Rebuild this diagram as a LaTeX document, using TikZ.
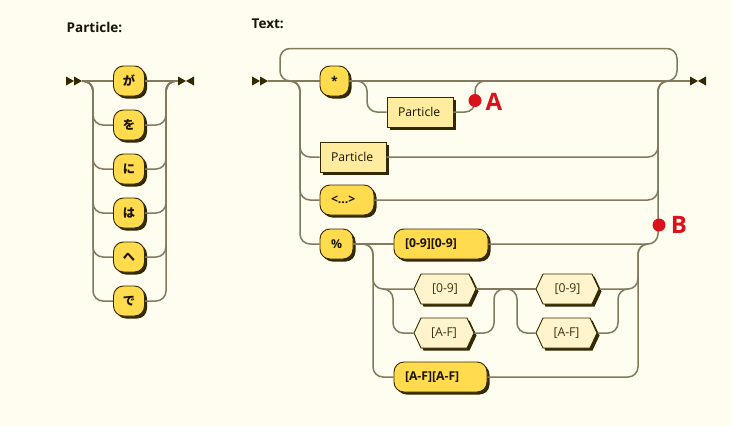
\documentclass[tikz,border=0pt]{standalone}
\usepackage{fontspec}
\setmainfont{Open Sans}
\newfontfamily\cjk{Noto Sans CJK JP}
\usetikzlibrary{shapes.symbols,shadows}
\definecolor{bgc}{RGB}{255,253,240}
\definecolor{railc}{RGB}{130,122,94}
\definecolor{termc}{RGB}{255,219,77}
\definecolor{ntermc}{RGB}{255,236,158}
\definecolor{hexc}{RGB}{255,244,204}
\definecolor{edgec}{RGB}{51,41,0}
\definecolor{redc}{RGB}{218,18,28}
\definecolor{txtc}{RGB}{25,20,5}
\definecolor{hextxt}{RGB}{62,50,18}
\tikzset{
  rail/.style={draw=railc, line width=1.5pt, rounded corners=10pt},
  boxbase/.style={draw=edgec, line width=0.9pt, inner sep=0pt, minimum height=30pt,
    general shadow={fill=edgec, shadow xshift=2.5pt, shadow yshift=-2.5pt},
    font=\fontsize{12.2}{14}\selectfont},
  term/.style={boxbase, rectangle, rounded corners=10pt, fill=termc, text=txtc,
    font=\fontsize{12.2}{14}\selectfont\bfseries},
  nterm/.style={boxbase, rectangle, fill=ntermc, text=txtc},
  hexb/.style={boxbase, shape=signal, signal to=west and east, signal pointer angle=130,
    fill=hexc, text=hextxt},
  lefttext/.style={align=left, text width=#1, inner xsep=11pt},
  title/.style={anchor=west, inner sep=0pt, text=txtc, font=\fontsize{13.5}{16}\selectfont\bfseries},
  endmark/.style={fill=edgec},
  reddot/.style={fill=redc},
  redlbl/.style={inner sep=0pt, text=redc, font=\fontsize{24}{28}\selectfont\bfseries},
}
\begin{document}
\begin{tikzpicture}[x=1pt,y=-1pt]
\useasboundingbox (0,0) rectangle (732,426);
\fill[bgc] (0,0) rectangle (732,426);

% ---------- Particle ----------
\node[title] (tP) at (66.5,27.5) {Particle:};
\fill[endmark] (66,76.5) -- (74,81) -- (66,85.5) -- cycle (74,76.5) -- (82,81) -- (74,85.5) -- cycle;
\fill[endmark] (178,76.5) -- (186,81) -- (178,85.5) -- cycle (194,76.5) -- (186,81) -- (194,85.5) -- cycle;
\coordinate (ls) at (82,81);
\coordinate (lsplit) at (83,81);
\coordinate (lrl) at (93,81);
\coordinate (lrr) at (166,81);
\coordinate (ljoin) at (176,81);
\coordinate (le) at (178,81);
\node[term, minimum width=31pt] (g1) at (129,81) {\cjk\bfseries が};
\node[term, minimum width=31pt] (g2) at (129,125) {\cjk\bfseries を};
\node[term, minimum width=31pt] (g3) at (129,169) {\cjk\bfseries に};
\node[term, minimum width=31pt] (g4) at (129,213) {\cjk\bfseries は};
\node[term, minimum width=31pt] (g5) at (129,257) {\cjk\bfseries へ};
\node[term, minimum width=31pt] (g6) at (129,301) {\cjk\bfseries で};
\draw[rail] (ls) -- (g1.west);
\draw[rail] (g1.east) -- (le);
\foreach \n in {g2,g3,g4,g5,g6}{
  \draw[rail] (lsplit) -| (lrl |- \n.west) -- (\n.west);
  \draw[rail] (\n.east) -| (lrr) -- (ljoin);
}

% ---------- Text ----------
\node[title] (tT) at (251.5,23.5) {Text:};
\fill[endmark] (252,76.5) -- (260,81) -- (252,85.5) -- cycle (260,76.5) -- (268,81) -- (260,85.5) -- cycle;
\fill[endmark] (690,76.5) -- (698,81) -- (690,85.5) -- cycle (706,76.5) -- (698,81) -- (706,85.5) -- cycle;
\coordinate (ts) at (268,81);
\coordinate (te) at (690,81);

\node[term, minimum width=29pt] (star) at (334.5,81) {*};
\node[nterm, minimum width=66pt, lefttext=44pt] (opt) at (420,112) {Particle};
\node[nterm, minimum width=66pt, lefttext=44pt] (pB) at (353,157) {Particle};
\node[term, minimum width=54pt, lefttext=32pt] (ang) at (347,200) {<...>};
\node[term, minimum width=33pt] (pct) at (336.5,244) {\%};
\node[term, minimum width=94pt, lefttext=72pt] (b09) at (441,244) {[0-9][0-9]};
\node[hexb, minimum width=62pt] (h1) at (445,289) {[0-9]};
\node[hexb, minimum width=60pt] (h2) at (444,333) {[A-F]};
\node[hexb, minimum width=63pt] (h3) at (567.5,289) {[0-9]};
\node[hexb, minimum width=61pt] (h4) at (566.5,333) {[A-F]};
\node[term, minimum width=93pt, lefttext=71pt] (bAF) at (440.5,377) {[A-F][A-F]};

% main line
\draw[rail] (ts) -- (star.west);
\draw[rail] (star.east) -- (te);
% loop
\coordinate (lpA) at (296,81);
\coordinate (lpL) at (280,48.5);
\coordinate (lpR) at (677,48.5);
\coordinate (lpB) at (660,81);
\draw[rail] (lpA) -| (lpL) -| (lpR |- lpB) -- (lpB);
% optional particle
\coordinate (oL) at (367,81);
\coordinate (oR) at (475,81);
\coordinate (oJ) at (486,81);
\draw[rail] (star.east) -| (oL |- opt.west) -- (opt.west);
\draw[rail] (opt.east) -| (oR) -- (oJ);
% outer choice
\coordinate (cS) at (290,81);
\coordinate (cL) at (300,81);
\coordinate (cR) at (658,81);
\coordinate (cJ) at (670,81);
\foreach \n in {pB,ang,pct}{
  \draw[rail] (cS) -| (cL |- \n.west) -- (\n.west);
}
\foreach \n in {pB,ang,b09}{
  \draw[rail] (\n.east) -| (cR) -- (cJ);
}
% inner choice
\draw[rail] (pct.east) -- (b09.west);
\coordinate (iS) at (363,244);
\coordinate (iL) at (373,244);
\coordinate (iR) at (638,244);
\coordinate (iJ) at (648,244);
\draw[rail] (iS) -| (iL |- h1.west) -- (h1.west);
\draw[rail] (iS) -| (iL |- bAF.west) -- (bAF.west);
\draw[rail] (h3.east) -| (iR) -- (iJ);
\draw[rail] (bAF.east) -| (iR) -- (iJ);
% sub choice 1
\coordinate (s1S) at (383,289);
\coordinate (s1L) at (393,289);
\coordinate (s1R) at (494,289);
\coordinate (s1J) at (504,289);
\draw[rail] (s1S) -| (s1L |- h2.west) -- (h2.west);
\draw[rail] (h2.east) -| (s1R) -- (s1J);
\draw[rail] (h1.east) -- (h3.west);
% sub choice 2
\coordinate (s2S) at (507,289);
\coordinate (s2L) at (517,289);
\coordinate (s2R) at (618,289);
\coordinate (s2J) at (628,289);
\draw[rail] (s2S) -| (s2L |- h4.west) -- (h4.west);
\draw[rail] (h4.east) -| (s2R) -- (s2J);

% markers
\fill[reddot] (475,100.5) circle (6.5pt);
\node[redlbl] (lA) at (494,101.5) {A};
\fill[reddot] (659,225) circle (6.5pt);
\node[redlbl] (lB) at (679,225) {B};
\end{tikzpicture}
\end{document}
